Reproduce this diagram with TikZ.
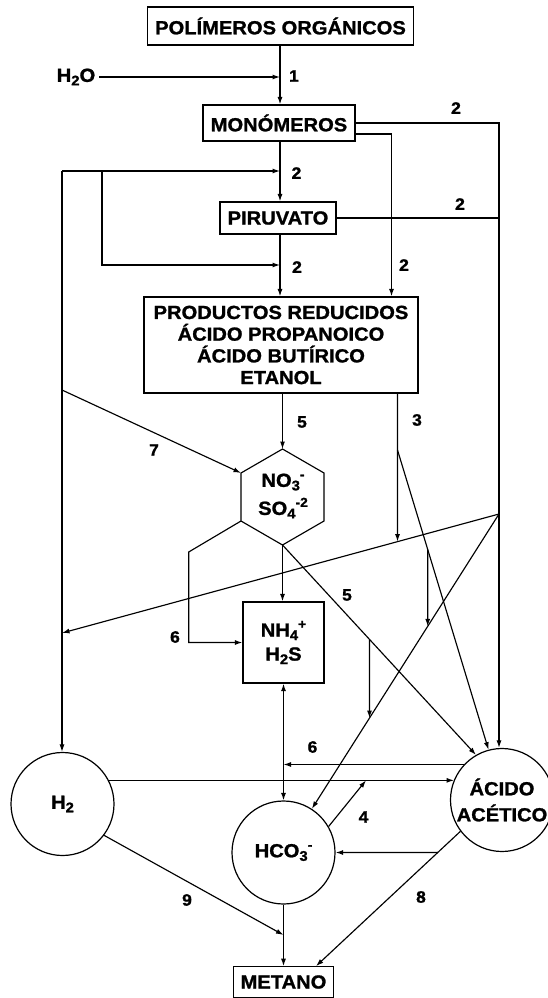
\documentclass[tikz,border=0pt]{standalone}
\usepackage{fontspec}
\setmainfont{Liberation Sans}[FakeStretch=1.06, BoldFeatures={FakeBold=1.2}]
\usetikzlibrary{arrows.meta,calc}
\newcommand\mysub[1]{\raisebox{-0.35ex}{\fontsize{14}{14}\selectfont #1}}
\newcommand\mysup[1]{\raisebox{0.8ex}{\fontsize{13}{13}\selectfont #1}}
\newcommand\mysubsup[2]{\mysub{#1}\mysup{#2}}
\begin{document}
\begin{tikzpicture}[x=1pt,y=-1pt,
  txt/.style={font=\fontsize{19}{21.7}\selectfont\bfseries, align=center, inner sep=0pt},
  box/.style={txt, draw, line width=1.2pt},
  circ/.style={txt, draw, circle, line width=1.2pt, minimum size=103pt},
  num/.style={font=\fontsize{16.5}{17}\selectfont\bfseries, inner sep=0pt},
  ln/.style={line width=1.15pt},
  arr/.style={line width=1.15pt, -{Latex[length=7.5pt,width=5pt]}},
  darr/.style={line width=1.15pt, {Latex[length=7.5pt,width=5pt]}-{Latex[length=7.5pt,width=5pt]}}
]
\useasboundingbox (0,0) rectangle (548,998);

% guides
\coordinate (gA) at (280,0);
\coordinate (gR) at (499,0);
\coordinate (gM) at (391.5,0);
\coordinate (gR3) at (397.5,0);
\coordinate (g4a) at (427.7,0);
\coordinate (g4b) at (427.7,1000);
\coordinate (g5a) at (369.5,0);
\coordinate (g5b) at (369.5,1000);
\coordinate (g4x) at (366,0);
\coordinate (g8) at (316,0);
\coordinate (g9y) at (0,935);

% nodes
\node[box, minimum width=266pt, minimum height=38pt] (pol) at (280.5,26) {POLÍMEROS ORGÁNICOS};
\node[txt] (h2o) at (76,77) {H\mysub{2}O};
\node[box, minimum width=152pt, minimum height=36pt] (mon) at (279,123) {MONÓMEROS};
\node[box, minimum width=116pt, minimum height=32pt] (pir) at (278,218) {PIRUVATO};
\node[box, minimum width=274pt, minimum height=96pt] (prod) at (281,345) {PRODUCTOS REDUCIDOS\\ÁCIDO PROPANOICO\\ÁCIDO BUTÍRICO\\ETANOL};

\coordinate (hT) at (282.5,449);
\coordinate (hUR) at (324,473);
\coordinate (hLR) at (324,521);
\coordinate (hB) at (282.5,545);
\coordinate (hLL) at (241,521);
\coordinate (hUL) at (241,473);
\draw[ln] (hT) -- (hUR) -- (hLR) -- (hB) -- (hLL) -- (hUL) -- cycle;
\node[txt, font=\fontsize{19}{28}\selectfont\bfseries] (hex) at (283,496) {NO\mysubsup{3}{-}\\SO\mysubsup{4}{-2}};

\node[box, minimum width=81pt, minimum height=81pt, font=\fontsize{19}{24}\selectfont\bfseries] (nh4) at (283.5,642.5) {NH\mysubsup{4}{+}\\H\mysub{2}S};
\node[circ] (h2) at (62.5,804) {H\mysub{2}};
\node[circ] (hco) at (283.5,852.5) {HCO\mysubsup{3}{-}};
\node[circ, font=\fontsize{19}{26}\selectfont\bfseries] (acet) at (502,800) {ÁCIDO\\ACÉTICO};
\node[box, minimum width=100pt, minimum height=30.5pt] (met) at (283.5,982) {METANO};

% helper points
\coordinate (j1) at (280,77);
\coordinate (m2) at ($(mon.east)+(0,11)$);
\coordinate (lt) at (62,171);
\coordinate (lt2) at (102,171);
\coordinate (lb2) at (102,265);
\coordinate (l7) at (62,390);
\coordinate (p3a) at (397.5,450);
\coordinate (P) at (499,514);
\coordinate (Lh2) at (62,633);
\coordinate (a105) at (acet.105);
\coordinate (a120) at (acet.120);
\coordinate (a137) at (acet.137);
\coordinate (a157) at (acet.157);
\coordinate (a217) at (acet.217);
\coordinate (h57) at (hco.57);
\coordinate (hcoE) at (hco.east);
\coordinate (hcoW) at (hco.west);
\coordinate (c6a) at (188.7,552);
\coordinate (met8) at (met.north -| g8);

% connectors
\draw[arr] (pol.south -| gA) -- (mon.north -| gA);
\draw[arr] ([xshift=4pt]h2o.east) -- (j1);
\draw[arr] (mon.south -| gA) -- (pir.north -| gA);
\draw[arr] (pir.south -| gA) -- (prod.north -| gA);
\draw[arr] (mon.east) -- (mon.east -| gR) -- (acet.north -| gR);
\draw[arr] (m2) -- (m2 -| gM) -- (prod.north -| gM);
\draw[ln] (pir.east) -- (pir.east -| gR);
\draw[arr] (lt) -- (lt -| gA);
\draw[arr] (lt) -- (h2.north -| lt);
\draw[arr] (lt2) -- (lb2) -- (lb2 -| gA);
\draw[arr] (l7) -- (hUL);
\draw[arr] (prod.south -| hT) -- (hT);
\draw[arr] (prod.south -| gR3) -- (intersection of P--Lh2 and gR3--p3a);
\draw[arr] (p3a) -- (a105);
\draw[arr] (P) -- (Lh2);
\draw[arr] (P) -- (h57);
\draw[arr] (intersection of p3a--a105 and g4a--g4b) -- (intersection of P--h57 and g4a--g4b);
\draw[arr] (hB) -- (a120);
\draw[arr] (intersection of hB--a120 and g5a--g5b) -- (intersection of P--h57 and g5a--g5b);
\draw[arr] (hB) -- (nh4.north -| hB);
\draw[arr] (hLL) -- (c6a) -- (c6a |- nh4.west) -- (nh4.west);
\draw[darr] (nh4.south) -- (hco.north);
\draw[arr] (a137) -- (a137 -| hco.north);
\draw[arr] (h2.27) -- (h2.27 -| a157);
\draw[arr] (hco.30) -- (h2.27 -| g4x);
\draw[arr] (a217) -- (met8);
\draw[arr] (intersection of a217--met8 and hcoE--hcoW) -- (hcoE);
\draw[arr] (h2.323) -- (hco.south |- g9y);
\draw[arr] (hco.south) -- (met.north);

% labels
\node[num] (n1) at (294,76) {1};
\node[num] (n2a) at (456,108) {2};
\node[num] (n2b) at (296.5,173) {2};
\node[num] (n2c) at (460,204) {2};
\node[num] (n2d) at (297,267) {2};
\node[num] (n2e) at (404,265) {2};
\node[num] (n5a) at (302,422) {5};
\node[num] (n3) at (417,420) {3};
\node[num] (n7) at (154,450) {7};
\node[num] (n5b) at (347,595) {5};
\node[num] (n6a) at (175,637) {6};
\node[num] (n6b) at (312.5,747) {6};
\node[num] (n4) at (363.5,817) {4};
\node[num] (n9) at (187,900) {9};
\node[num] (n8) at (421,897) {8};
\end{tikzpicture}
\end{document}
